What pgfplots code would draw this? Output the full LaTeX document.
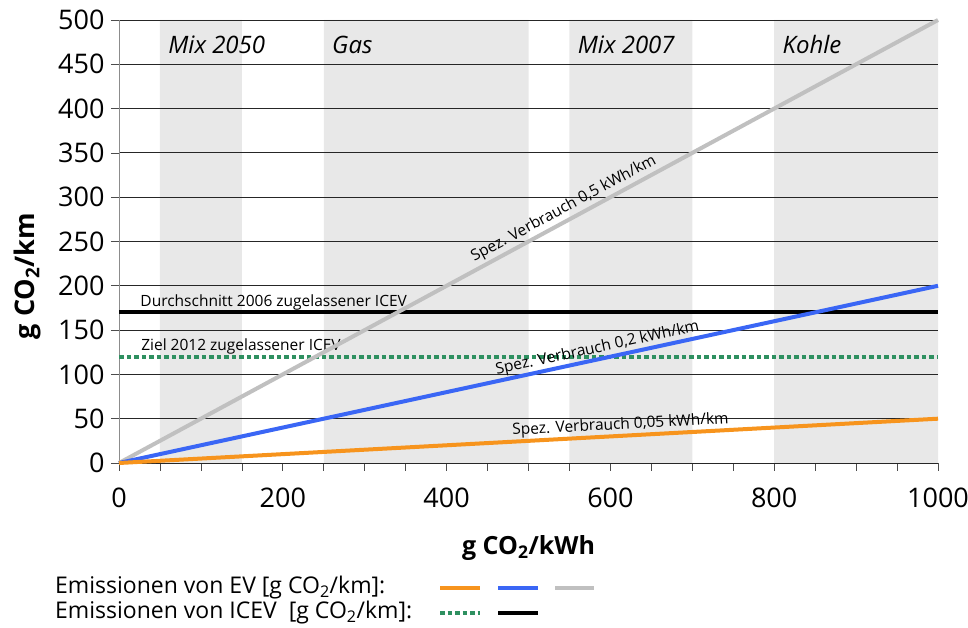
\documentclass[border=0pt]{standalone}
\usepackage{fontspec}
\setmainfont{Open Sans}
\usepackage{pgfplots}
\pgfplotsset{compat=1.18}
\definecolor{band}{HTML}{E8E8E8}
\definecolor{evorange}{HTML}{F7941D}
\definecolor{evblue}{HTML}{3A66F5}
\definecolor{evgray}{HTML}{C0C0C0}
\definecolor{icegreen}{HTML}{2E9060}
\begin{document}
\begin{tikzpicture}
\begin{axis}[
  at={(0pt,0pt)}, anchor=south west,
  scale only axis, width=819pt, height=443pt,
  set layers,
  xmin=0, xmax=1000, ymin=0, ymax=500,
  axis x line*=bottom, axis y line*=left,
  x axis line style={black!85, line width=0.9pt},
  y axis line style={black!45, line width=0.9pt},
  xtick={0,200,...,1000}, minor x tick num=3,
  ytick={0,50,...,500},
  tick align=outside,
  major tick length=8pt, minor tick length=8pt,
  tick style={black!70, line width=0.7pt},
  ymajorgrids, grid style={black!85, line width=0.8pt},
  /pgf/number format/assume math mode=true,
  /pgf/number format/set thousands separator={},
  ticklabel style={font=\fontsize{27}{30}\selectfont},
  xticklabel style={yshift=-13pt},
  yticklabel style={xshift=-3pt},
  xlabel={\textbf{g CO\textsubscript{2}/kWh}},
  ylabel={\textbf{g CO\textsubscript{2}/km}},
  label style={font=\fontsize{25}{28}\selectfont},
  xlabel style={at={(axis description cs:0.5,-0.192)}, anchor=center},
  ylabel style={at={(axis description cs:-0.112,0.422)}, anchor=center, font=\fontsize{27}{30}\selectfont},
  clip=false,
]
% shaded bands
\addplot[fill=band, draw=none, on layer=axis background] coordinates {(50,0)(50,500)(150,500)(150,0)(50,0)};
\addplot[fill=band, draw=none, on layer=axis background] coordinates {(250,0)(250,500)(500,500)(500,0)(250,0)};
\addplot[fill=band, draw=none, on layer=axis background] coordinates {(550,0)(550,500)(700,500)(700,0)(550,0)};
\addplot[fill=band, draw=none, on layer=axis background] coordinates {(800,0)(800,500)(1000,500)(1000,0)(800,0)};
% band labels
\node[anchor=west, font=\itshape\fontsize{24}{27}\selectfont] at (axis cs:56,472) {Mix 2050};
\node[anchor=west, font=\itshape\fontsize{24}{27}\selectfont] at (axis cs:256,472) {Gas};
\node[anchor=west, font=\itshape\fontsize{24}{27}\selectfont] at (axis cs:556,472) {Mix 2007};
\node[anchor=west, font=\itshape\fontsize{24}{27}\selectfont] at (axis cs:806,472) {Kohle};
% ICEV lines
\addplot[icegreen, line width=4pt, dash pattern=on 4.7pt off 2.8pt] coordinates {(0,120)(1000,120)};
\addplot[black, line width=4pt] coordinates {(0,170)(1000,170)};
\node[anchor=base west, font=\fontsize{15.5}{17}\selectfont, inner sep=0pt, yshift=6pt] at (axis cs:26,170) {Durchschnitt 2006 zugelassener ICEV};
\node[anchor=base west, font=\fontsize{15.5}{17}\selectfont, inner sep=0pt, yshift=6pt] at (axis cs:27,120) {Ziel 2012 zugelassener ICEV};
% EV lines
\addplot[evgray, line width=4pt] coordinates {(0,0)(1000,500)}
  node[pos=0.55, sloped, above, inner sep=2pt, font=\fontsize{15.5}{17}\selectfont, text=black] {Spez. Verbrauch 0,5 kWh/km};
\addplot[evblue, line width=4pt] coordinates {(0,0)(1000,200)}
  node[pos=0.587, sloped, above, inner sep=1pt, font=\fontsize{15.5}{17}\selectfont, text=black] {Spez. Verbrauch 0,2 kWh/km};
\addplot[evorange, line width=4pt] coordinates {(0,0)(1000,50)}
  node[pos=0.613, sloped, above, inner sep=1pt, font=\fontsize{15.5}{17}\selectfont, text=black] {Spez. Verbrauch 0,05 kWh/km};
\end{axis}
% legend
\node[anchor=west, inner sep=0pt, font=\fontsize{23}{26}\selectfont] at (-64pt,-125pt) {Emissionen von EV [g CO\textsubscript{2}/km]:};
\node[anchor=west, inner sep=0pt, font=\fontsize{23}{26}\selectfont] at (-64pt,-150pt) {Emissionen von ICEV\ \ [g CO\textsubscript{2}/km]:};
\draw[evorange, line width=4.5pt] (321pt,-125pt) -- (361pt,-125pt);
\draw[evblue, line width=4.5pt] (379pt,-125pt) -- (419pt,-125pt);
\draw[evgray, line width=4.5pt] (436pt,-125pt) -- (475pt,-125pt);
\draw[icegreen, line width=4.5pt, dash pattern=on 4.7pt off 2.8pt] (321pt,-150pt) -- (361pt,-150pt);
\draw[black, line width=4.5pt] (379pt,-150pt) -- (419pt,-150pt);
\pgfresetboundingbox
\path[use as bounding box] (-119pt,-165pt) rectangle (849pt,463pt);
\end{tikzpicture}
\end{document}
